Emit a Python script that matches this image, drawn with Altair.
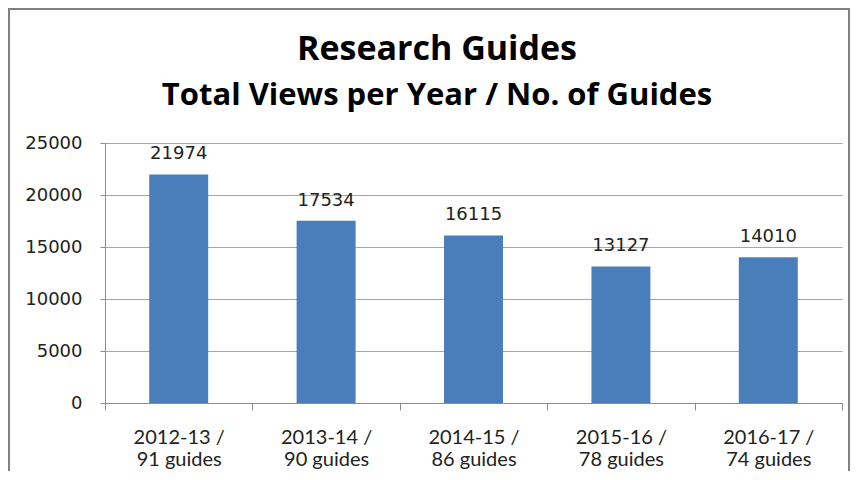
import altair as alt
import pandas as pd

years = ["2012-13", "2013-14", "2014-15", "2015-16", "2016-17"]
guides = [91, 90, 86, 78, 74]
views = [21974, 17534, 16115, 13127, 14010]
title_text = "Research Guides"
subtitle_text = "Total Views per Year / No. of Guides"

labels = [f"{y} /|{g} guides" for y, g in zip(years, guides)]
df = pd.DataFrame({"label": labels, "views": views})

W, H = 737, 260
gray = "#8C8C8C"

base = alt.Chart(df).encode(
    x=alt.X(
        "label:N",
        sort=labels,
        title=None,
        scale=alt.Scale(paddingInner=0, paddingOuter=0),
        axis=alt.Axis(
            labelExpr="split(datum.label, '|')",
            labelAngle=0,
            labelFont="Lato",
            labelFontSize=20,
            labelColor="#222222",
            labelPadding=17,
            labelLineHeight=22,
            tickBand="extent",
            tickSize=7,
            tickColor=gray,
            domainColor=gray,
            grid=False,
        ),
    ),
    y=alt.Y(
        "views:Q",
        title=None,
        scale=alt.Scale(domain=[0, 25000], nice=False),
        axis=alt.Axis(
            values=[0, 5000, 10000, 15000, 20000, 25000],
            format="d",
            labelFont="DejaVu Sans",
            labelFontSize=18,
            labelColor="#222222",
            labelPadding=18,
            tickSize=5,
            tickColor=gray,
            domainColor=gray,
            gridColor="#A6A6A6",
        ),
    ),
)

bars = base.mark_bar(color="#4A7EBB", width=alt.RelativeBandSize(0.4))
text = base.mark_text(
    dy=-11, font="DejaVu Sans", fontSize=18, color="#222222", baseline="bottom"
).encode(text=alt.Text("views:Q", format="d"))

frame = alt.Chart(alt.Data(values=[{"a": 1}])).mark_rect(
    fill=None, stroke="#7F7F7F", strokeWidth=2
).encode(
    x=alt.value(-96),
    x2=alt.value(744),
    y=alt.value(-134),
    y2=alt.value(400),
)

titles = alt.Chart(alt.Data(values=[{"t": title_text}])).mark_text(
    font="Open Sans", fontSize=34, fontWeight="bold", color="#000000",
    align="center", baseline="alphabetic",
).encode(text="t:N", x=alt.value(332), y=alt.value(-83))

subtitles = alt.Chart(alt.Data(values=[{"t": subtitle_text}])).mark_text(
    font="Open Sans", fontSize=31, fontWeight="bold", color="#000000",
    align="center", baseline="alphabetic",
).encode(text="t:N", x=alt.value(332), y=alt.value(-38))

chart = alt.layer(frame, bars, text, titles, subtitles).properties(
    width=W,
    height=H,
    padding={"left": 97, "top": 135, "right": 8, "bottom": 68},
    autosize=alt.AutoSizeParams(type="none"),
).configure_view(stroke=None)

chart.save("out.html", embed_options={"renderer": "svg", "actions": False})
